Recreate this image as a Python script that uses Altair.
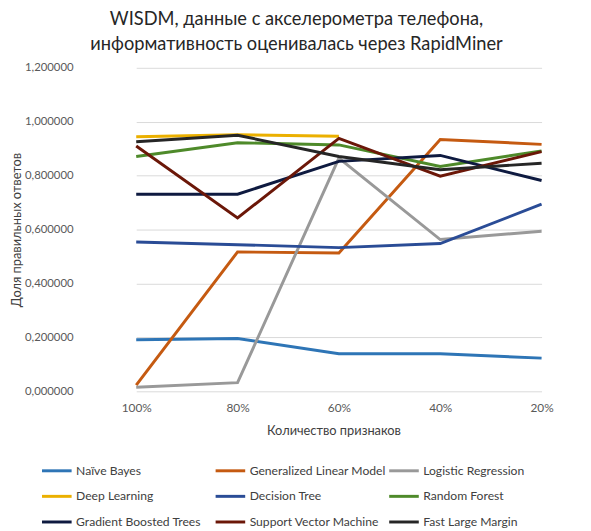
import altair as alt
import pandas as pd

categories = ["100%", "80%", "60%", "40%", "20%"]
series_names = [
    "Naïve Bayes", "Generalized Linear Model", "Logistic Regression",
    "Deep Learning", "Decision Tree", "Random Forest",
    "Gradient Boosted Trees", "Support Vector Machine", "Fast Large Margin",
]
naive_bayes = [0.191, 0.196, 0.139, 0.139, 0.123]
generalized_linear = [0.023, 0.517, 0.513, 0.934, 0.916]
logistic_regression = [0.015, 0.032, 0.865, 0.563, 0.594]
deep_learning = [0.944, 0.952, 0.946, None, None]
decision_tree = [0.554, 0.544, 0.533, 0.548, 0.694]
random_forest = [0.871, 0.922, 0.914, 0.834, 0.892]
gradient_boosted = [0.731, 0.731, 0.853, 0.875, 0.782]
svm = [0.910, 0.643, 0.938, 0.798, 0.889]
fast_large_margin = [0.926, 0.950, 0.871, 0.822, 0.846]
colors = ["#2E75B6", "#C55A11", "#999999", "#EBB000", "#2A4C96",
          "#4E8A2A", "#0E1A40", "#6B1708", "#262626"]

all_series = [naive_bayes, generalized_linear, logistic_regression, deep_learning,
              decision_tree, random_forest, gradient_boosted, svm, fast_large_margin]
rows = []
for name, vals in zip(series_names, all_series):
    for i, (c, v) in enumerate(zip(categories, vals)):
        if v is not None:
            rows.append({"cat": c, "idx": i, "model": name, "value": v})
df = pd.DataFrame(rows)

# legend fills column by column: reorder so rows read like the reference
legend_order = [series_names[i] for i in (0, 3, 6, 1, 4, 7, 2, 5, 8)]
legend_colors = [colors[i] for i in (0, 3, 6, 1, 4, 7, 2, 5, 8)]

FONT = "Lato"

chart = alt.Chart(df).mark_line(strokeWidth=3).encode(
    x=alt.X("cat:N", sort=categories,
            scale=alt.Scale(type="point", range=[52, 463], padding=0),
            axis=alt.Axis(title="Количество признаков", labelAngle=0, domain=False,
                          ticks=False, labelPadding=11, titlePadding=12,
                          labelFontSize=12, titleFontSize=13, labelFont=FONT,
                          titleFont=FONT, titleFontWeight="normal",
                          labelColor="#595959", titleColor="#404040", titleX=252)),
    y=alt.Y("value:Q", scale=alt.Scale(domain=[0, 1.2], nice=False),
            axis=alt.Axis(title="Доля правильных ответов", values=[0, 0.2, 0.4, 0.6, 0.8, 1.0, 1.2],
                          labelExpr="replace(format(datum.value, '.6f'), '.', ',')",
                          domain=False, ticks=False, labelPadding=12, titlePadding=1,
                          gridColor="#D9D9D9", gridWidth=1,
                          labelFontSize=11.5, titleFontSize=13, labelFont=FONT,
                          titleFont=FONT, titleFontWeight="normal",
                          labelColor="#595959", titleColor="#404040")),
    color=alt.Color("model:N", sort=legend_order,
                    scale=alt.Scale(domain=legend_order, range=legend_colors),
                    legend=alt.Legend(title=None, orient="none", legendX=-45, legendY=392,
                                      columns=3, symbolType="stroke", symbolSize=900,
                                      symbolStrokeWidth=3, labelFontSize=12.3, labelFont=FONT,
                                      labelColor="#404040", columnPadding=-3, rowPadding=3,
                                      gridAlign="all",
                                      labelOffset=3, labelLimit=200)),
    order=alt.Order("idx:Q"),
).properties(
    width=505, height=328,
    title=alt.TitleParams(
        text=["WISDM, данные с акселерометра телефона,",
              "информативность оценивалась через RapidMiner"],
        fontSize=18.5, font=FONT, fontWeight="normal", color="#262626",
        lineHeight=25, anchor="middle", dx=-38, offset=9),
    autosize=alt.AutoSizeParams(type="none"),
    padding={"left": 78, "top": 57, "right": 0, "bottom": 138},
).configure_view(stroke=None)

chart.save("out.html", embed_options={"renderer": "svg", "actions": False})
